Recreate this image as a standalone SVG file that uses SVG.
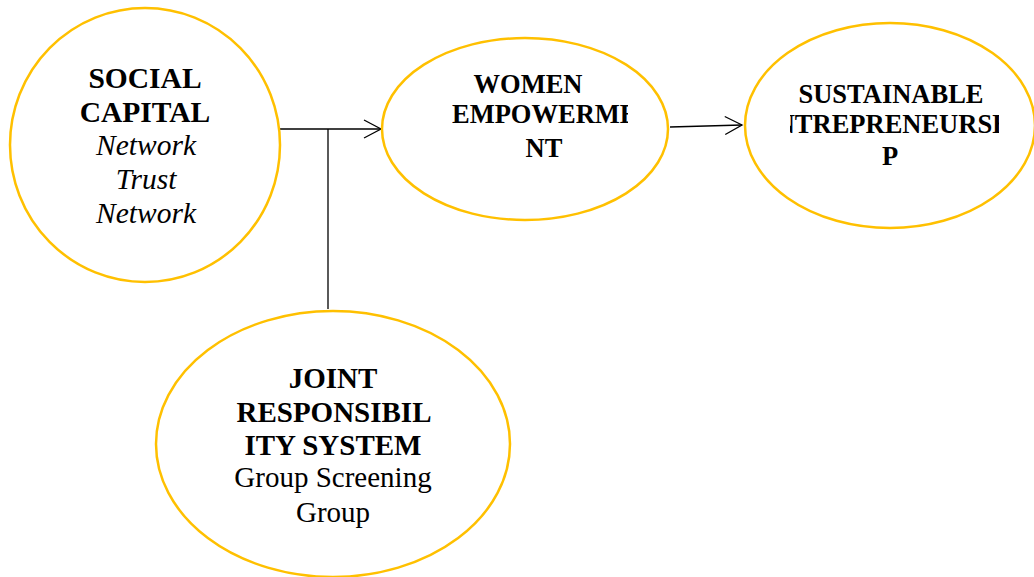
<svg xmlns="http://www.w3.org/2000/svg" width="1034" height="577" viewBox="0 0 1034 577">
<style>
.node{fill:#fff;stroke:#FFC000;stroke-width:2.5}
.b{font-family:"Liberation Serif","Times New Roman",serif;font-weight:bold;fill:#000}
.r{font-family:"Liberation Serif","Times New Roman",serif;fill:#000}
.i{font-family:"Liberation Serif","Times New Roman",serif;font-style:italic;fill:#000}
.c{fill:none;stroke:#000;stroke-width:1.3}
</style>
<defs>
<marker id="arr" markerUnits="userSpaceOnUse" markerWidth="22" markerHeight="22" refX="18" refY="10" orient="auto">
<path d="M1,1 L18,10 L1,19" fill="none" stroke="#000" stroke-width="1.3"/>
</marker>
<clipPath id="cw"><rect x="452" y="90" width="176" height="40"/></clipPath>
<clipPath id="cs"><rect x="790" y="105" width="209" height="35"/></clipPath>
</defs>
<rect width="1034" height="577" fill="#fff"/>
<g id="connectors">
<line class="c" x1="280" y1="129" x2="381" y2="129" marker-end="url(#arr)"/>
<line class="c" x1="328" y1="129" x2="328" y2="309" stroke-width="2"/>
<line class="c" x1="670" y1="127" x2="742" y2="125" marker-end="url(#arr)"/>
</g>
<g id="social-capital">
<ellipse class="node" cx="145" cy="145" rx="135" ry="137"/>
<text class="b" font-size="29.5" text-anchor="middle" x="145" y="88">SOCIAL</text>
<text class="b" font-size="29.5" text-anchor="middle" x="145" y="122">CAPITAL</text>
<text class="i" font-size="29.5" text-anchor="middle" x="146" y="155">Network</text>
<text class="i" font-size="29.5" text-anchor="middle" x="146" y="189">Trust</text>
<text class="i" font-size="29.5" text-anchor="middle" x="146" y="223">Network</text>
</g>
<g id="women-empowerment">
<ellipse class="node" cx="525" cy="129" rx="143" ry="91"/>
<text class="b" font-size="26.5" text-anchor="middle" x="528" y="93">WOMEN</text>
<text class="b" font-size="26.5" x="452" y="123" clip-path="url(#cw)">EMPOWERME</text>
<text class="b" font-size="26.5" text-anchor="middle" x="544" y="157">NT</text>
</g>
<g id="sustainable-entrepreneurship">
<ellipse class="node" cx="890" cy="125.5" rx="145" ry="102.5"/>
<text class="b" font-size="26.5" text-anchor="middle" x="891" y="103">SUSTAINABLE</text>
<text class="b" font-size="26.5" x="758" y="133" clip-path="url(#cs)">ENTREPRENEURSHI</text>
<text class="b" font-size="26.5" text-anchor="middle" x="890" y="165">P</text>
</g>
<g id="joint-responsibility">
<ellipse class="node" cx="333" cy="444" rx="177" ry="133"/>
<text class="b" font-size="29" text-anchor="middle" x="333" y="388">JOINT</text>
<text class="b" font-size="29" text-anchor="middle" x="334" y="422">RESPONSIBIL</text>
<text class="b" font-size="29" text-anchor="middle" x="333" y="455">ITY SYSTEM</text>
<text class="r" font-size="29" text-anchor="middle" x="333" y="487">Group Screening</text>
<text class="r" font-size="29" text-anchor="middle" x="333" y="522">Group</text>
</g>
</svg>
